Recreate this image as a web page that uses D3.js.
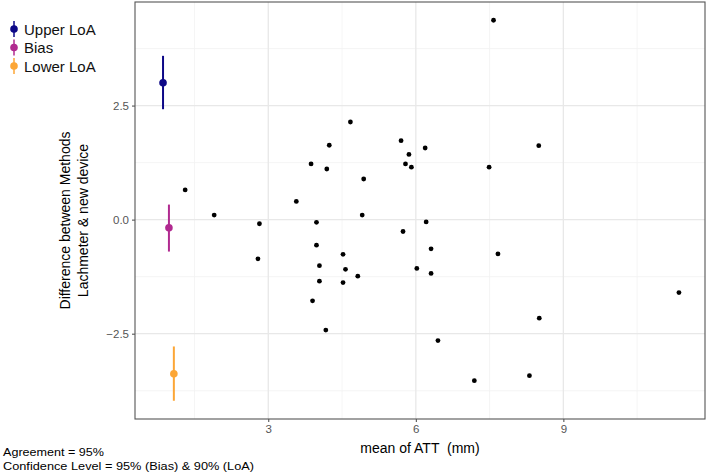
<!DOCTYPE html>
<html>
<head>
<meta charset="utf-8">
<script src="https://cdn.jsdelivr.net/npm/d3@7"></script>
<style>
  body { margin: 0; background: #fff; }
  text { font-family: "Liberation Sans", Arial, sans-serif; white-space: pre; }
</style>
</head>
<body>
<div id="chart"></div>
<script>
// mean of ATT (x) and difference between methods (y)
const meanATT = [1.31, 1.90, 2.82, 2.79, 3.57, 3.87, 3.98, 3.98, 4.04, 4.04,
                 3.90, 4.17, 4.19, 4.24, 4.52, 4.57, 4.52, 4.67, 4.82, 4.94,
                 4.91, 5.70, 5.79, 5.86, 5.91, 5.74, 6.19, 6.21, 6.31, 6.31,
                 6.02, 6.45, 7.19, 7.49, 7.58, 7.67, 8.31, 8.50, 8.51, 11.35];
const diffs   = [0.65, 0.10, -0.09, -0.86, 0.40, 1.22, -0.06, -0.56, -1.01, -1.35,
                 -1.78, -2.42, 1.11, 1.63, -0.76, -1.09, -1.38, 2.14, -1.24, 0.89,
                 0.10, 1.73, 1.22, 1.43, 1.15, -0.26, 1.57, -0.05, -0.64, -1.18,
                 -1.07, -2.65, -3.53, 1.15, 4.37, -0.75, -3.42, 1.62, -2.16, -1.60];

// agreement estimates with confidence intervals
const loaLabels = ['Upper LoA', 'Bias', 'Lower LoA'];
const loaX      = [0.86, 0.98, 1.08];
const loaEst    = [3.00, -0.18, -3.38];
const loaLow    = [2.42, -0.70, -3.97];
const loaHigh   = [3.59, 0.33, -2.78];
const loaColors = ['#0D0887', '#B12A90', '#FCA636'];

const xTicks = [3, 6, 9];
const yTicks = [-2.5, 0, 2.5];
const xMinor = [1.5, 4.5, 7.5, 10.5];
const yMinor = [-3.75, -1.25, 1.25, 3.75];

const WIDTH = 708, HEIGHT = 476;
const panel = {left: 135, right: 705, top: 2, bottom: 419};

const svg = d3.select('#chart').append('svg')
    .attr('width', WIDTH)
    .attr('height', HEIGHT);

const x = d3.scaleLinear().domain([0.29, 11.88]).range([panel.left, panel.right]);
const y = d3.scaleLinear().domain([-4.37, 4.77]).range([panel.bottom, panel.top]);

// grid
const grid = svg.append('g');
grid.selectAll('.xminor').data(xMinor).enter().append('line')
    .attr('x1', d => x(d)).attr('x2', d => x(d))
    .attr('y1', panel.top).attr('y2', panel.bottom)
    .attr('stroke', '#F2F2F2').attr('stroke-width', 0.8);
grid.selectAll('.yminor').data(yMinor).enter().append('line')
    .attr('y1', d => y(d)).attr('y2', d => y(d))
    .attr('x1', panel.left).attr('x2', panel.right)
    .attr('stroke', '#F2F2F2').attr('stroke-width', 0.8);
grid.selectAll('.xmajor').data(xTicks).enter().append('line')
    .attr('x1', d => x(d)).attr('x2', d => x(d))
    .attr('y1', panel.top).attr('y2', panel.bottom)
    .attr('stroke', '#E8E8E8').attr('stroke-width', 1.3);
grid.selectAll('.ymajor').data(yTicks).enter().append('line')
    .attr('y1', d => y(d)).attr('y2', d => y(d))
    .attr('x1', panel.left).attr('x2', panel.right)
    .attr('stroke', '#E8E8E8').attr('stroke-width', 1.3);

// axes
const xAxis = d3.axisBottom(x).tickValues(xTicks).tickSize(3).tickPadding(3).tickFormat(d3.format('d'));
const yAxis = d3.axisLeft(y).tickValues(yTicks).tickSize(3).tickPadding(3)
    .tickFormat(d => d3.format('.1f')(d).replace('-', '\u2212'));

const gx = svg.append('g').attr('transform', `translate(0,${panel.bottom})`).call(xAxis);
const gy = svg.append('g').attr('transform', `translate(${panel.left},0)`).call(yAxis);
[gx, gy].forEach(g => {
  g.select('.domain').remove();
  g.selectAll('.tick line').attr('stroke', '#444');
  g.selectAll('.tick text').attr('fill', '#555').style('font-size', '11.5px');
});

// points
svg.append('g').selectAll('circle').data(meanATT).enter().append('circle')
    .attr('cx', d => x(d))
    .attr('cy', (d, i) => y(diffs[i]))
    .attr('r', 2.4)
    .attr('fill', '#000');

// point ranges
const pr = svg.append('g').selectAll('g').data(loaLabels).enter().append('g');
pr.append('line')
    .attr('x1', (d, i) => x(loaX[i])).attr('x2', (d, i) => x(loaX[i]))
    .attr('y1', (d, i) => y(loaLow[i])).attr('y2', (d, i) => y(loaHigh[i]))
    .attr('stroke', (d, i) => loaColors[i]).attr('stroke-width', 2);
pr.append('circle')
    .attr('cx', (d, i) => x(loaX[i])).attr('cy', (d, i) => y(loaEst[i]))
    .attr('r', 3.8)
    .attr('fill', (d, i) => loaColors[i]);

// panel border
svg.append('rect')
    .attr('x', panel.left).attr('y', panel.top)
    .attr('width', panel.right - panel.left).attr('height', panel.bottom - panel.top)
    .attr('fill', 'none').attr('stroke', '#555').attr('stroke-width', 1.1);

// legend
const legend = svg.append('g').selectAll('g').data(loaLabels).enter().append('g')
    .attr('transform', (d, i) => `translate(14,${29 + i * 18.5})`);
legend.append('line')
    .attr('y1', -8).attr('y2', 8)
    .attr('stroke', (d, i) => loaColors[i]).attr('stroke-width', 1.5);
legend.append('circle')
    .attr('r', 3.8)
    .attr('fill', (d, i) => loaColors[i]);
legend.append('text')
    .attr('x', 10).attr('y', 5.5)
    .style('font-size', '15px')
    .attr('fill', '#111')
    .text(d => d);

// axis titles
svg.append('text')
    .attr('x', (panel.left + panel.right) / 2).attr('y', 453)
    .attr('text-anchor', 'middle')
    .style('font-size', '14px')
    .text('mean of ATT  (mm)');

const yt = svg.append('text')
    .attr('transform', `translate(70,${(panel.top + panel.bottom) / 2 + 10}) rotate(-90)`)
    .attr('text-anchor', 'middle')
    .style('font-size', '14px');
yt.append('tspan').attr('x', 0).attr('dy', 0).text('Difference between Methods');
yt.append('tspan').attr('x', 0).attr('dy', 17.5).text('Lachmeter & new device');

// caption
svg.append('text').attr('x', 3).attr('y', 455.5)
    .style('font-size', '11.5px')
    .attr('textLength', 101).attr('lengthAdjust', 'spacingAndGlyphs')
    .text('Agreement = 95%');
svg.append('text').attr('x', 3).attr('y', 469.5)
    .style('font-size', '11.5px')
    .attr('textLength', 251).attr('lengthAdjust', 'spacingAndGlyphs')
    .text('Confidence Level = 95% (Bias) & 90% (LoA)');
</script>
</body>
</html>
